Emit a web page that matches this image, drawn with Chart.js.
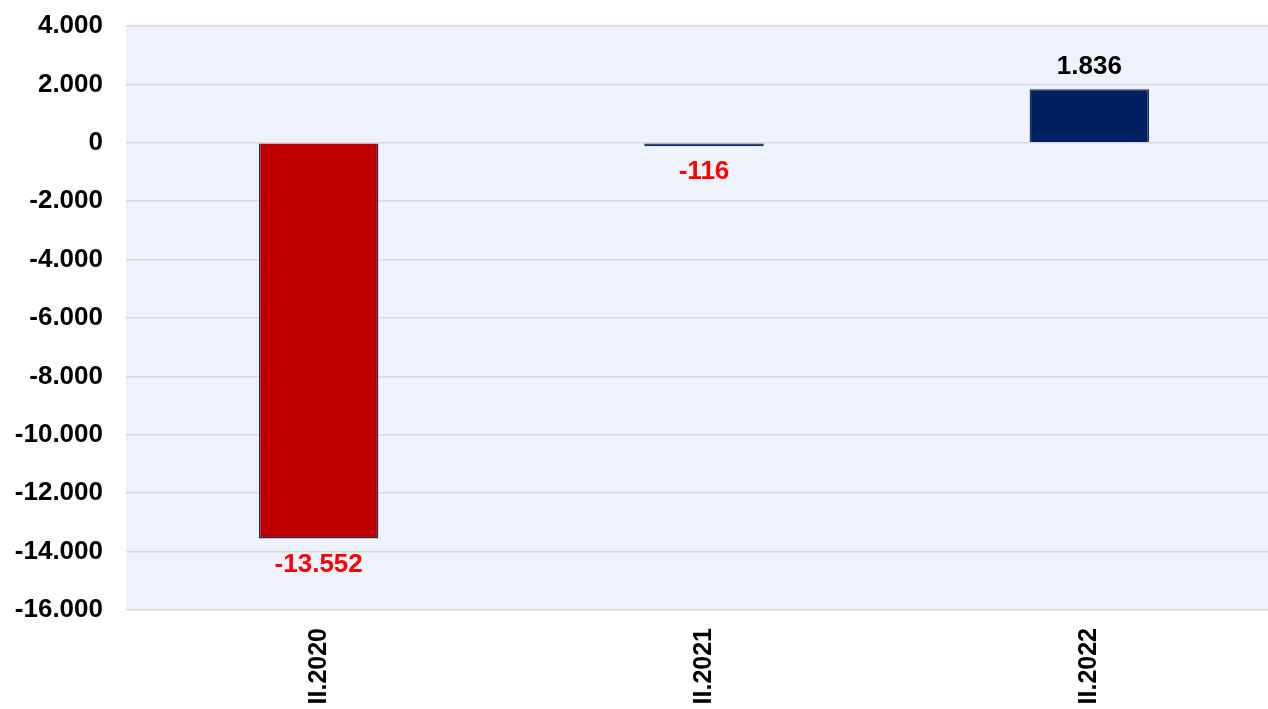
<!DOCTYPE html>
<html>
<head>
<meta charset="utf-8">
<script src="https://cdn.jsdelivr.net/npm/chart.js@4"></script>
<style>
  html, body { margin: 0; padding: 0; background: #fff; overflow: hidden; }
  #wrap { width: 1282px; height: 709px; }
</style>
</head>
<body>
<div id="wrap"><canvas id="chart"></canvas></div>
<script>
"use strict";

const categories = ["II.2020", "II.2021", "II.2022"];
const values = [-13552, -116, 1836];
const barColors = ["#C00000", "#002060", "#002060"];

const yMin = -16000;
const yMax = 4000;
const yStep = 2000;

const FONT = "'Liberation Sans', Arial, sans-serif";

function fmt(v) {
    const s = Math.abs(v).toString().replace(/\B(?=(\d{3})+(?!\d))/g, ".");
    return (v < 0 ? "-" : "") + s;
}

const plotBg = {
    id: "plotBg",
    beforeDraw(chart) {
        const a = chart.chartArea;
        const ctx = chart.ctx;
        ctx.save();
        ctx.fillStyle = "#EEF2FA";
        ctx.fillRect(a.left, a.top, a.right - a.left, a.bottom - a.top);
        ctx.restore();
    }
};

const valueLabels = {
    id: "valueLabels",
    afterDatasetsDraw(chart) {
        const ctx = chart.ctx;
        const meta = chart.getDatasetMeta(0);
        ctx.save();
        ctx.font = "bold 26px " + FONT;
        ctx.textAlign = "center";
        ctx.textBaseline = "middle";
        meta.data.forEach((bar, i) => {
            const v = values[i];
            if (v < 0) {
                ctx.fillStyle = "#FF0000";
                ctx.fillText(fmt(v), bar.x, bar.y + 26);
            } else {
                ctx.fillStyle = "#000000";
                ctx.fillText(fmt(v), bar.x, bar.y - 22);
            }
        });
        ctx.restore();
    }
};

new Chart(document.getElementById("chart").getContext("2d"), {
    type: "bar",
    data: {
        labels: categories,
        datasets: [{
            data: values,
            backgroundColor: barColors,
            borderColor: "#1F3060",
            borderWidth: 1.5,
            categoryPercentage: 1,
            barPercentage: 0.31
        }]
    },
    options: {
        responsive: true,
        maintainAspectRatio: false,
        animation: false,
        layout: { padding: { top: 26, left: 0, right: 0, bottom: 0 } },
        plugins: {
            legend: { display: false },
            tooltip: { enabled: false }
        },
        scales: {
            x: {
                grid: { display: false, drawTicks: false },
                border: { display: false },
                ticks: {
                    color: "#000",
                    font: { family: FONT, size: 25, weight: "bold" },
                    minRotation: 90,
                    maxRotation: 90,
                    padding: 18
                },
                afterFit(axis) {
                    axis.height = 99;
                    axis.paddingLeft = 0;
                    axis.paddingRight = 0;
                }
            },
            y: {
                min: yMin,
                max: yMax,
                grid: { color: "#D9D9D9", lineWidth: 1.5, drawTicks: false },
                border: { display: false },
                ticks: {
                    stepSize: yStep,
                    color: "#000",
                    font: { family: FONT, size: 26, weight: "bold" },
                    padding: 23,
                    callback: (v) => fmt(v)
                },
                afterFit(axis) {
                    axis.width = 126;
                    axis.paddingTop = 0;
                    axis.paddingBottom = 0;
                }
            }
        }
    },
    plugins: [plotBg, valueLabels]
});
</script>
</body>
</html>
